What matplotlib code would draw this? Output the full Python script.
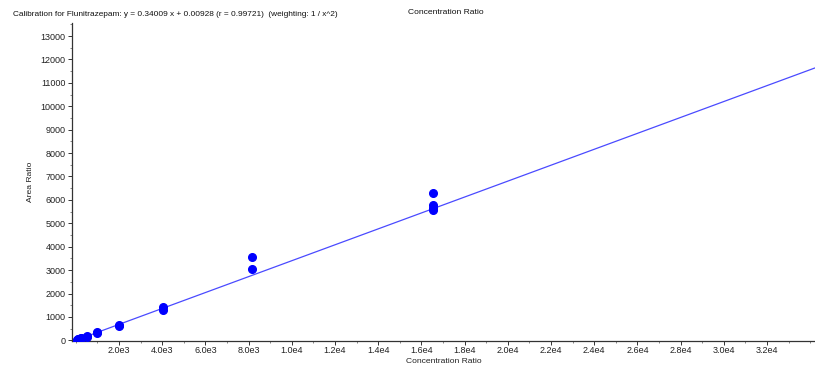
import matplotlib
matplotlib.use("Agg")
import matplotlib.pyplot as plt
from matplotlib.ticker import MultipleLocator, FixedLocator
import numpy as np

plt.rcParams['font.family'] = ['Liberation Sans', 'DejaVu Sans']

# Data
conc = [62, 62, 125, 125, 250, 250, 500, 500, 1000, 1000, 2000, 2000,
        4050, 4050, 8150, 8150, 16550, 16550, 16550, 16550]
area = [21, 20, 43, 40, 86, 80, 165, 150, 335, 320, 640, 610,
        1410, 1310, 3560, 3040, 6280, 5770, 5660, 5580]
slope = 0.34009
intercept = 0.00928
x_ticks = [2000, 4000, 6000, 8000, 10000, 12000, 14000, 16000, 18000, 20000,
           22000, 24000, 26000, 28000, 30000, 32000]
x_tick_labels = ["2.0e3", "4.0e3", "6.0e3", "8.0e3", "1.0e4", "1.2e4", "1.4e4",
                 "1.6e4", "1.8e4", "2.0e4", "2.2e4", "2.4e4", "2.6e4", "2.8e4",
                 "3.0e4", "3.2e4"]
y_ticks = list(range(0, 13001, 1000))

fig = plt.figure(figsize=(8.15, 3.67), dpi=100)
ax = fig.add_axes([0.0883, 0.0708, 0.9117, 0.866])

xmin, xmax = -176, 34222
ax.set_xlim(xmin, xmax)
ax.set_ylim(-30, 13550)

xl = np.array([xmin, xmax])
ax.plot(xl, slope * xl + intercept, color='#4a4aff', lw=0.9, zorder=2)
ax.plot(conc, area, 'o', color='#0000ff', markersize=5.5, zorder=3)

ax.xaxis.set_major_locator(FixedLocator(x_ticks))
ax.set_xticklabels(x_tick_labels)
ax.xaxis.set_minor_locator(MultipleLocator(1000))
ax.yaxis.set_major_locator(FixedLocator(y_ticks))
ax.yaxis.set_minor_locator(MultipleLocator(500))

ax.tick_params(axis='both', which='major', labelsize=6.5, length=3, width=0.7,
               color='#333333', labelcolor='#222222', pad=1.5)
ax.tick_params(axis='x', which='major', pad=0.3)
ax.tick_params(axis='both', which='minor', length=1.5, width=0.5, color='#555555')

for s in ['top', 'right']:
    ax.spines[s].set_visible(False)
for s in ['left', 'bottom']:
    ax.spines[s].set_linewidth(0.9)
    ax.spines[s].set_color('#333333')

ax.set_xlabel('Concentration Ratio', fontsize=6.1, color='#222222', labelpad=2.5)
ax.set_ylabel('Area Ratio', fontsize=6.1, color='#222222', labelpad=5)

fig.text(13 / 815, 1 - 15 / 367,
         'Calibration for Flunitrazepam: y = 0.34009 x + 0.00928 (r = 0.99721)  (weighting: 1 / x^2)',
         fontsize=5.95, color='#111111', ha='left', va='center')
fig.text(446 / 815, 1 - 12 / 367, 'Concentration Ratio', fontsize=6.1,
         color='#111111', ha='center', va='center')

fig.savefig('out.png', dpi=100)
